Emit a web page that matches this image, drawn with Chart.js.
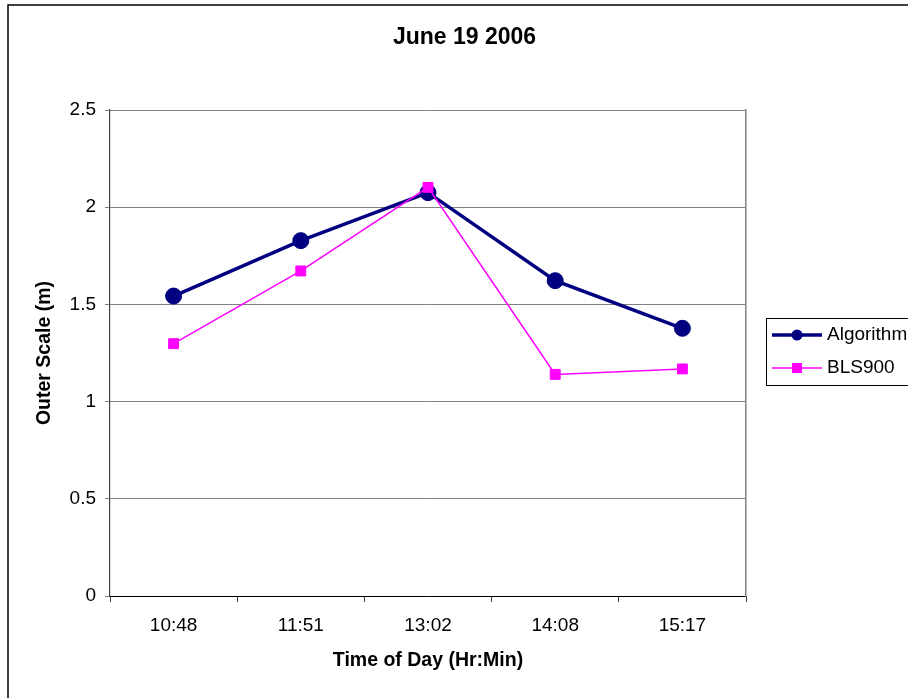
<!DOCTYPE html>
<html>
<head>
<meta charset="utf-8">
<script src="https://cdn.jsdelivr.net/npm/chart.js@4.4.1/dist/chart.umd.min.js"></script>
<style>
  html, body { margin: 0; padding: 0; background: #fff; overflow: hidden; }
  #wrap { width: 908px; height: 698px; position: relative; }
</style>
</head>
<body>
<div id="wrap"><canvas id="c" width="908" height="698"></canvas></div>
<script>
const chartTitle = 'June 19 2006';
const xTitle = 'Time of Day (Hr:Min)';
const yTitle = 'Outer Scale (m)';
const categories = ['10:48', '11:51', '13:02', '14:08', '15:17'];
const algorithmValues = [1.543, 1.828, 2.075, 1.622, 1.377];
const bls900Values = [1.298, 1.672, 2.102, 1.140, 1.168];
const yTicks = [0, 0.5, 1, 1.5, 2, 2.5];
const yTickLabels = ['0', '0.5', '1', '1.5', '2', '2.5'];
const seriesNames = ['Algorithm', 'BLS900'];

const FONT = '"Liberation Sans", Arial, sans-serif';

const framePlugin = {
  id: 'frame',
  beforeDraw(chart) {
    const ctx = chart.ctx;
    ctx.save();
    ctx.fillStyle = '#fff';
    ctx.fillRect(0, 0, chart.width, chart.height);
    ctx.strokeStyle = '#000';
    ctx.lineWidth = 1.5;
    ctx.strokeRect(8, 5, 1200, 1200);
    ctx.restore();
  }
};

const legendPlugin = {
  id: 'customLegend',
  afterDraw(chart) {
    const ctx = chart.ctx;
    const bx = 766.5, by = 318.5, bw = 160, bh = 67;
    ctx.save();
    ctx.strokeStyle = '#000';
    ctx.lineWidth = 1;
    ctx.strokeRect(bx, by, bw, bh);
    const rows = [335, 368];
    chart.data.datasets.forEach((ds, i) => {
      const y = rows[i];
      ctx.strokeStyle = ds.borderColor;
      ctx.lineWidth = ds.borderWidth;
      ctx.beginPath();
      ctx.moveTo(772, y);
      ctx.lineTo(822, y);
      ctx.stroke();
      ctx.fillStyle = ds.backgroundColor;
      if (ds.pointStyle === 'rect') {
        ctx.fillRect(797 - 5, y - 5, 10, 10);
      } else {
        ctx.beginPath();
        ctx.arc(797, y, 5.5, 0, Math.PI * 2);
        ctx.fill();
      }
      ctx.fillStyle = '#000';
      ctx.font = '19px ' + FONT;
      ctx.textBaseline = 'middle';
      ctx.textAlign = 'left';
      ctx.fillText(ds.label, 827, y);
    });
    ctx.restore();
  }
};

new Chart(document.getElementById('c'), {
  type: 'line',
  data: {
    labels: categories,
    datasets: [
      {
        label: seriesNames[0],
        data: algorithmValues,
        borderColor: '#000080',
        backgroundColor: '#000080',
        borderWidth: 3.5,
        pointStyle: 'circle',
        pointRadius: 8,
        pointBorderWidth: 1,
        pointBackgroundColor: '#000080',
        pointBorderColor: '#000080',
        tension: 0,
        order: 1
      },
      {
        label: seriesNames[1],
        data: bls900Values,
        borderColor: '#FF00FF',
        backgroundColor: '#FF00FF',
        borderWidth: 1.5,
        pointStyle: 'rect',
        pointRadius: 7,
        pointBorderWidth: 1,
        pointBackgroundColor: '#FF00FF',
        pointBorderColor: '#FF00FF',
        tension: 0,
        order: 0
      }
    ]
  },
  options: {
    responsive: false,
    animation: false,
    devicePixelRatio: 1,
    layout: { padding: { left: 21, right: 0, top: 0, bottom: 0 } },
    plugins: {
      legend: { display: false },
      tooltip: { enabled: false },
      title: {
        display: true,
        text: chartTitle,
        color: '#000',
        font: { family: FONT, size: 23, weight: 'bold', lineHeight: 1.2 },
        padding: { top: 23.7, bottom: 58.7 }
      }
    },
    scales: {
      x: {
        type: 'category',
        offset: true,
        grid: { display: true, drawOnChartArea: false, drawTicks: true, tickLength: 6, offset: true, color: '#404040', lineWidth: 1 },
        border: { display: true, color: '#000', width: 1 },
        ticks: { color: '#000', font: { family: FONT, size: 19 }, padding: 12, maxRotation: 0, autoSkip: false },
        title: { display: true, text: xTitle, color: '#000', font: { family: FONT, size: 19.5, weight: 'bold', lineHeight: 1.2 }, padding: { top: 0, bottom: 25.3 } },
        afterFit(scale) { scale.height = 102; }
      },
      y: {
        position: 'left',
        min: 0,
        max: 2.5,
        afterBuildTicks(scale) { scale.ticks = yTicks.map(v => ({ value: v })); },
        grid: { color: '#808080', lineWidth: 1, drawTicks: true, tickLength: 5 },
        border: { display: true, color: '#404040', width: 1.2 },
        ticks: {
          color: '#000', font: { family: FONT, size: 19 }, padding: 9,
          callback(value) { const i = yTicks.indexOf(value); return i >= 0 ? yTickLabels[i] : String(value); }
        },
        title: { display: true, text: yTitle, color: '#000', font: { family: FONT, size: 19.5, weight: 'bold', lineHeight: 1.2 }, padding: { top: 12.3, bottom: 0 } },
        afterFit(scale) { scale.width = 89; }
      },
      yRight: {
        position: 'right',
        min: 0,
        max: 2.5,
        grid: { display: false, drawTicks: false },
        ticks: { display: false },
        border: { display: true, color: '#808080', width: 1.5 },
        afterFit(scale) { scale.width = 162; }
      }
    }
  },
  plugins: [framePlugin, legendPlugin]
});
</script>
</body>
</html>
